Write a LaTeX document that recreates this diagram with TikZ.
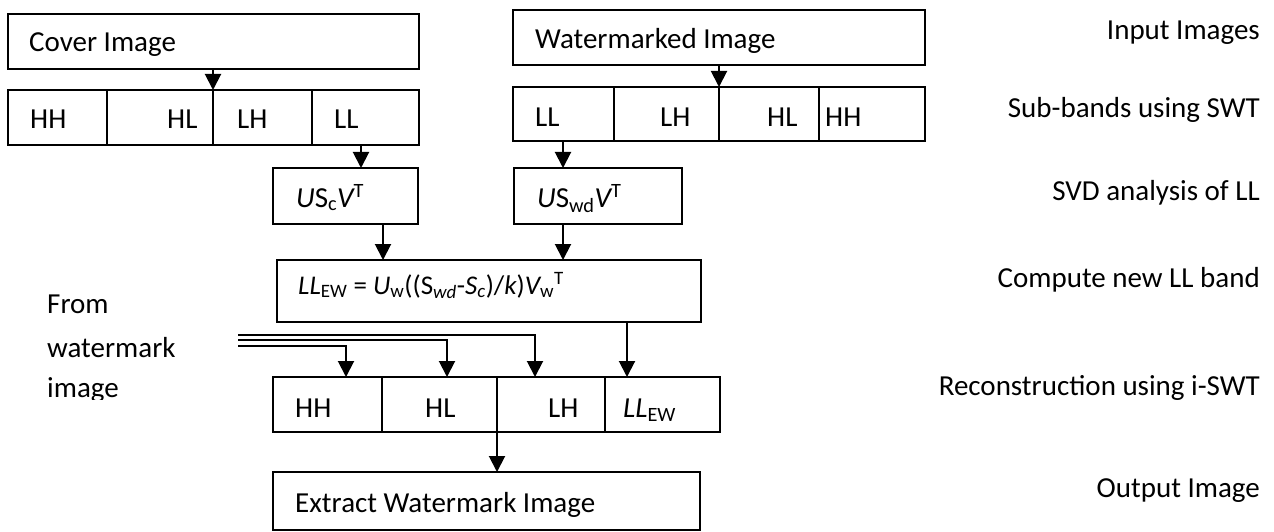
\documentclass[tikz,border=0pt]{standalone}
\usepackage{fontspec}
\setmainfont{Carlito}
\usetikzlibrary{arrows.meta}
\begin{document}
\begin{tikzpicture}[x=1pt,y=-1pt,
  box/.style={draw, line width=1.8pt, inner sep=0pt, outer sep=0pt, anchor=north west, rectangle},
  txt/.style={anchor=base west, inner sep=0pt, font=\fontsize{29}{34}\selectfont},
  rtxt/.style={anchor=base east, inner sep=0pt, font=\fontsize{29}{34}\selectfont},
  arr/.style={line width=2pt, -{Triangle[length=16pt,width=16pt]}},
]
\useasboundingbox (0,0) rectangle (1274,532);
% input boxes
\node[box, minimum width=411pt, minimum height=55pt] (cover) at (8,14) {};
\node[box, minimum width=412pt, minimum height=55pt] (wimg) at (513,10) {};
\node[txt] (tcover) at (29,52) {Cover Image};
\node[txt] (twimg) at (535,49) {Watermarked Image};
% cover sub-bands
\node[box, minimum width=99pt, minimum height=55pt] (cHH) at (8,90) {};
\node[box, minimum width=106pt, minimum height=55pt] (cHL) at (107,90) {};
\node[box, minimum width=99pt, minimum height=55pt] (cLH) at (213,90) {};
\node[box, minimum width=107pt, minimum height=55pt] (cLL) at (312,90) {};
\node[txt] (tcHH) at (30,129) {HH};
\node[txt] (tcHL) at (167,129) {HL};
\node[txt] (tcLH) at (237,129) {LH};
\node[txt] (tcLL) at (334,129) {LL};
% watermarked sub-bands
\node[box, minimum width=101pt, minimum height=54pt] (wLL) at (513,87) {};
\node[box, minimum width=105pt, minimum height=54pt] (wLH) at (614,87) {};
\node[box, minimum width=100pt, minimum height=54pt] (wHL) at (719,87) {};
\node[box, minimum width=106pt, minimum height=54pt] (wHH) at (819,87) {};
\node[txt] (twLL) at (535,127) {LL};
\node[txt] (twLH) at (660,127) {LH};
\node[txt] (twHL) at (767,127) {HL};
\node[txt] (twHH) at (825,127) {HH};
% SVD boxes
\node[box, minimum width=145pt, minimum height=56pt] (usc) at (273,168) {};
\node[box, minimum width=168pt, minimum height=56pt] (uswd) at (514,168) {};
\node[txt] (tusc) at (296,207) {\itshape U\upshape S\textsubscript{c}\itshape V\upshape\textsuperscript{T}};
\node[txt] (tuswd) at (537,207) {\itshape U\upshape S\textsubscript{wd}\itshape V\upshape\textsuperscript{T}};
% compute box
\node[box, minimum width=424pt, minimum height=62pt] (comp) at (277,260) {};
\node[txt, font=\fontsize{27}{32}\selectfont] (tcomp) at (298,294) {{\itshape LL}\textsubscript{EW} = {\itshape U}\textsubscript{w}((S\textsubscript{\itshape wd}-{\itshape S}\textsubscript{\itshape c})/{\itshape k}){\itshape V}\textsubscript{w}\textsuperscript{T}};
% reconstruction
\node[box, minimum width=109pt, minimum height=55pt] (rHH) at (273,377) {};
\node[box, minimum width=115pt, minimum height=55pt] (rHL) at (382,377) {};
\node[box, minimum width=108pt, minimum height=55pt] (rLH) at (497,377) {};
\node[box, minimum width=115pt, minimum height=55pt] (rLL) at (605,377) {};
\node[txt] (trHH) at (295,417) {HH};
\node[txt] (trHL) at (425,417) {HL};
\node[txt] (trLH) at (548,417) {LH};
\node[txt] (trLL) at (623,417) {{\itshape LL}\textsubscript{EW}};
% output
\node[box, minimum width=427pt, minimum height=58pt] (ext) at (273,472) {};
\node[txt] (text) at (295,512) {Extract Watermark Image};
% side labels
\node[rtxt] (l1) at (1260,40) {Input Images};
\node[rtxt] (l2) at (1260,118) {Sub-bands using SWT};
\node[rtxt] (l3) at (1260,200) {SVD analysis of LL};
\node[rtxt] (l4) at (1260,287) {Compute new LL band};
\node[rtxt] (l5) at (1260,395) {Reconstruction using i-SWT};
\node[rtxt] (l6) at (1260,497) {Output Image};
% from watermark
\node[txt] (f1t) at (47,313) {From};
\node[txt] (f2t) at (47,357) {watermark};
\begin{scope}
\clip (0,365) rectangle (260,399);
\node[txt] (f3t) at (47,397) {image};
\end{scope}
% arrows
\draw[arr] (cover.south -| cLH.west) -- (cLH.north west);
\draw[arr] (wimg.south -| wHL.west) -- (wHL.north west);
\draw[arr] (cLL.south -| 361,0) -- (usc.north -| 361,0);
\draw[arr] (wLL.south -| 563,0) -- (uswd.north -| 563,0);
\draw[arr] (usc.south -| 383,0) -- (comp.north -| 383,0);
\draw[arr] (uswd.south -| 563,0) -- (comp.north -| 563,0);
\draw[arr] (comp.south -| 627,0) -- (rLL.north -| 627,0);
\coordinate (s1) at (238,335);
\coordinate (s2) at (238,340);
\coordinate (s3) at (238,345.5);
\draw[arr] (s1) -| (rLH.north -| 535,0);
\draw[arr] (s2) -| (rHL.north -| 447,0);
\draw[arr] (s3) -| (rHH.north -| 346,0);
\draw[arr] (rLH.south west) -- (ext.north -| rLH.west);
\end{tikzpicture}
\end{document}
